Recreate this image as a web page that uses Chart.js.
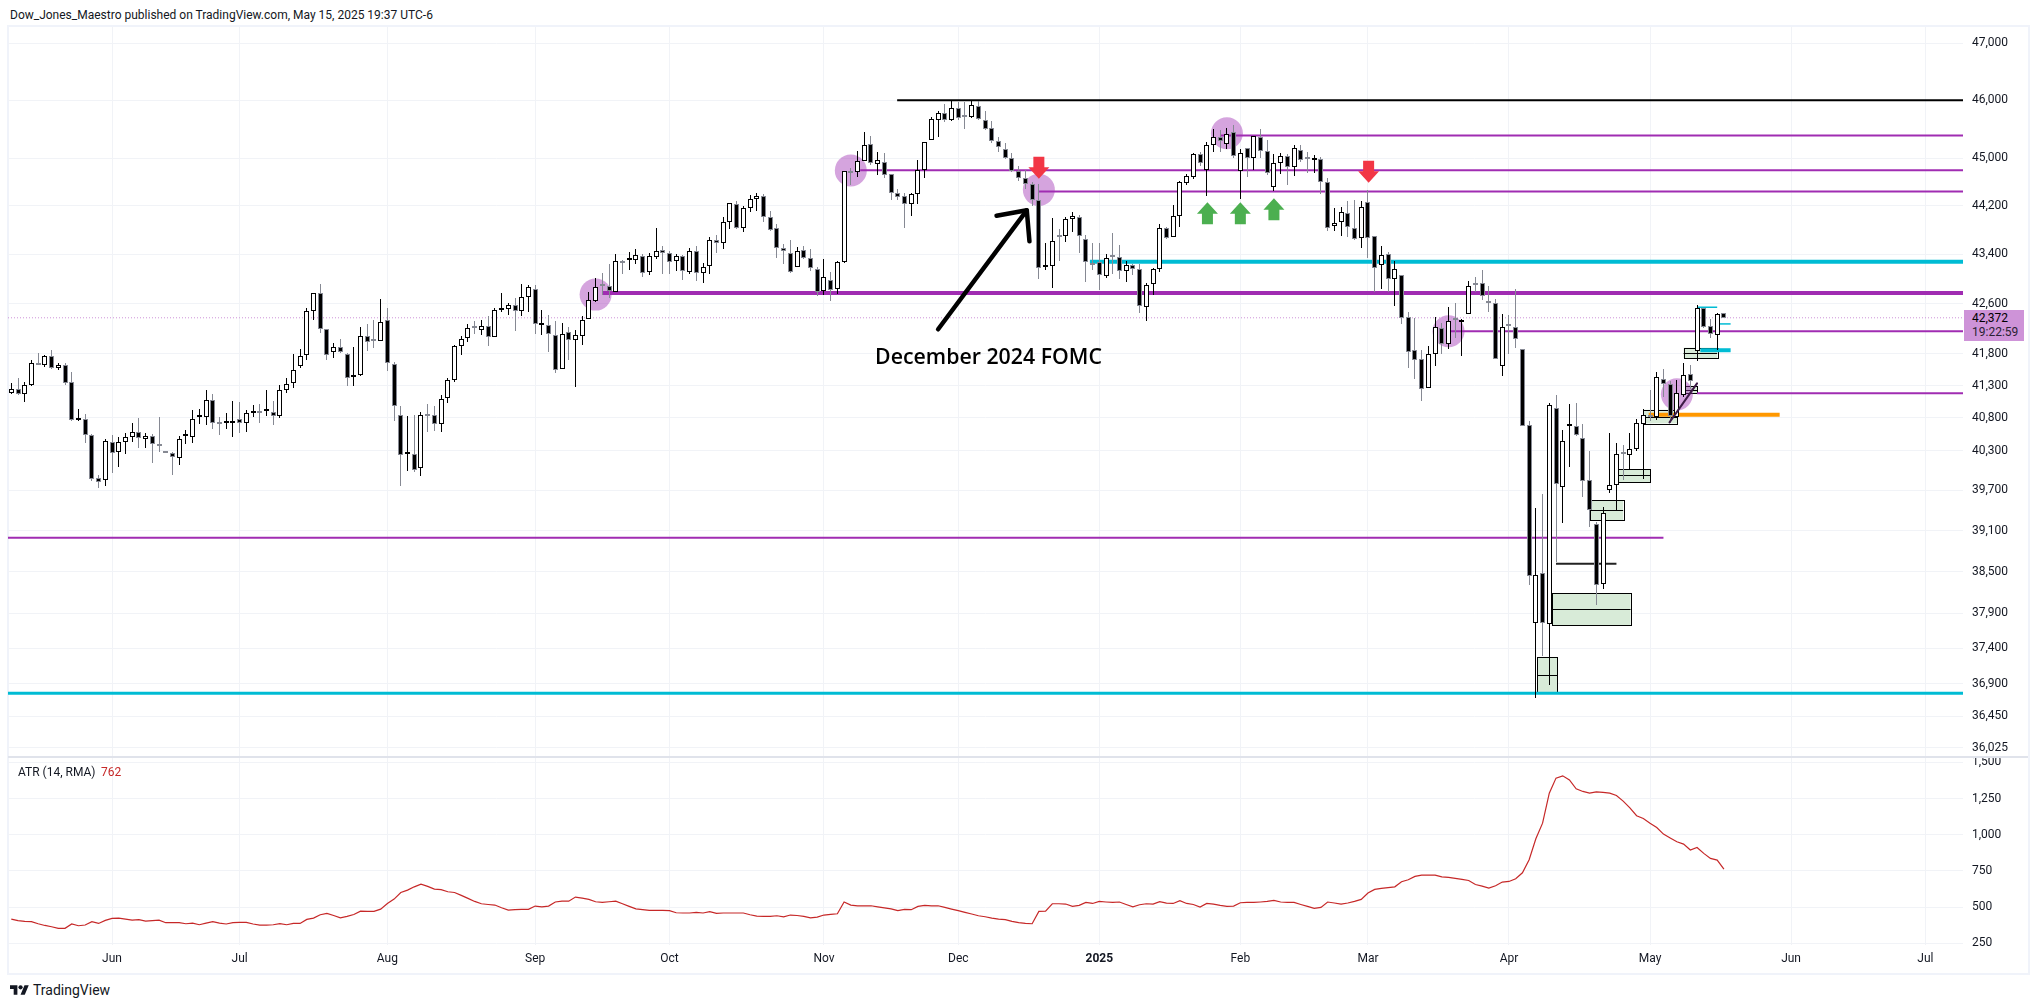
<!DOCTYPE html>
<html><head><meta charset="utf-8"><title>DJI chart</title>
<script src="https://cdn.jsdelivr.net/npm/chart.js@4"></script>
<style>
html,body{margin:0;padding:0;background:#fff;width:2039px;height:1008px;overflow:hidden}
.t{position:absolute;white-space:nowrap;color:#131722;font-family:Roboto,sans-serif}
canvas{position:absolute;display:block}
</style></head><body>
<div style="position:absolute;left:7px;top:25px;width:2019px;height:946px;border:2px solid #f0f3fa"></div>
<canvas id="price" width="2020" height="730" style="left:8px;top:27px"></canvas>
<canvas id="atr" width="2020" height="216" style="left:8px;top:757px"></canvas>
<div style="position:absolute;left:8px;top:756px;width:2020px;height:2px;background:#e0e3eb"></div>
<div class="t" style="left:10px;top:7px;font-size:12px;line-height:16px">Dow_Jones_Maestro published on TradingView.com, May 15, 2025 19:37 UTC-6</div>
<div style="position:absolute;left:1964px;top:310px;width:60px;height:31px;background:#ce93d8"></div>
<div class="t" style="left:1972px;top:311px;font-size:12px;line-height:15px;color:#000">42,372</div>
<div class="t" style="left:1972px;top:325px;font-size:12px;line-height:15px;color:#2a1f33">19:22:59</div>
<div class="t" style="left:18px;top:765px;font-size:12px;line-height:15px">ATR (14, RMA)</div>
<div class="t" style="left:101px;top:765px;font-size:12px;line-height:15px;color:#c62828">762</div>
<svg style="position:absolute;left:10px;top:983px" width="19" height="15" viewBox="0 0 36 28"><path fill="#131722" d="M14 22H7V11H0V4h14v18zM28 22h-8l7.5-18h8L28 22z"/><circle fill="#131722" cx="20" cy="8" r="4"/></svg>
<div class="t" style="left:33px;top:982px;font-size:14px;line-height:17px">TradingView</div>
<script>
const monthLabels = ["Jun","Jul","Aug","Sep","Oct","Nov","Dec","2025","Feb","Mar","Apr","May","Jun","Jul"];
const monthBars = [15,34,56,78,98,121,141,162,183,202,223,244,265,285];
const priceTicks = [47000,46000,45000,44200,43400,42600,41800,41300,40800,40300,39700,39100,38500,37900,37400,36900,36450,36025];
const atrTicks = [1500,1250,1000,750,500,250];

const opens = [
41191,41248,41175,41310,41639,41628,41764,41576,41623,41357,
40764,40779,40545,39890,39850,40435,40285,40425,40503,40576,
40472,40519,40394,40270,40265,40180,40519,40503,40816,40816,
41076,40706,40722,40727,40779,40722,40868,40889,40904,40889,
40831,41237,41347,41613,41779,42487,42778,42200,41827,41912,
41800,41436,41467,42088,42013,42008,42344,41644,40847,40240,
40240,40030,40831,40847,40706,41113,41394,41925,42056,42227,
42184,42243,42072,42504,42520,42579,42488,42713,42838,42259,
42259,42099,41566,42152,42024,42088,42360,42643,42888,42883,
42792,43283,43299,43304,43379,43107,43363,43467,43428,43288,
43368,43107,43461,43096,43208,43633,43583,43933,44233,43833,
44167,44317,44361,44017,43828,43500,43428,43192,43467,43347,
43155,42803,42984,42835,43267,44772,44767,44961,45250,44900,
44944,44733,44411,44361,44228,44400,44811,45318,45665,45778,
45665,45864,45710,45716,45903,45665,45523,45301,45153,45011,
44794,44667,44567,44294,43192,43208,43700,43700,43983,44011,
43650,43256,43267,43043,43373,43363,43128,43224,43160,42547,
42915,43160,43828,43678,44028,44578,44694,45068,44811,45233,
45358,45239,45455,44783,45170,45000,45369,45119,44517,44917,
45034,44850,45148,44989,44967,44983,44600,43867,43933,44083,
43828,43667,44267,43700,43219,43400,43000,43064,42387,41859,
41722,41269,41800,42216,41949,42349,42312,42440,42920,42936,
42648,42611,41607,42248,42227,41875,40685,37757,38486,37743,
40951,39745,40670,40670,40498,39860,39204,38317,39700,39775,
40270,40225,40331,40706,40836,40810,41409,41331,40815,41159,
41482,41848,42536,42248,42104,42451];
const highs = [
41347,41415,41363,41696,41816,41774,41853,41659,41659,41519,
40941,40863,40550,39935,40472,40540,40508,40566,40722,40800,
40566,40555,40821,40270,40280,40519,40618,40915,40941,41227,
41165,40821,40883,41055,41040,40925,40993,41008,41237,41055,
41305,41425,41800,41880,42535,42778,42913,42200,41976,42029,
41816,41912,42232,42280,42333,42670,42536,41675,40977,40836,
40852,40894,41008,40977,41154,41425,41946,42088,42280,42317,
42333,42397,42536,42767,42616,42686,42908,42897,42892,42493,
42413,42317,42296,42221,42184,42397,42794,43021,43101,43245,
43405,43309,43443,43489,43405,43417,43839,43544,43461,43400,
43389,43506,43539,43261,43683,43722,44022,44250,44278,44206,
44389,44422,44406,44122,43900,43572,43639,43517,43544,43483,
43187,43325,43117,43283,44789,44833,45125,45443,45381,45102,
45085,44733,44489,44411,44417,44972,45273,45710,45813,45938,
45989,45966,45966,45994,45983,45807,45636,45369,45256,45085,
44878,44806,44594,44567,43583,44000,43817,44017,44094,44050,
43722,43583,43583,43411,43750,43556,43293,43240,43240,42925,
43176,43906,43850,44211,44611,44739,45085,45102,45284,45500,
45483,45528,45568,45153,45170,45386,45511,45312,45068,45085,
45068,45227,45227,45114,45051,45023,44667,44167,44183,44289,
44300,44289,44472,43700,43539,43433,43293,43069,42472,42376,
41853,41923,42392,42296,42552,42616,42349,42968,43037,43149,
42877,42680,42429,42424,42840,41880,40748,39432,39640,41034,
41149,40618,41008,41024,40711,40290,39229,39447,40566,40409,
40383,40566,40790,40941,41227,41519,41566,41373,41383,41660,
41628,42573,42536,42349,42456,42451];
const lows = [
41165,41149,41045,41295,41623,41592,41566,41545,41310,40753,
40748,40420,39845,39740,39770,39965,40055,40250,40435,40342,
40342,40115,40280,40265,39935,40085,40404,40420,40711,40696,
40628,40545,40623,40514,40566,40576,40811,40717,40826,40685,
40795,41180,41263,41576,41701,42336,42125,41701,41732,41805,
41295,41295,41456,41843,41891,42008,41530,40748,39770,39995,
39980,39920,40587,40602,40576,41030,41357,41779,41987,42115,
42099,41923,42072,42467,42419,42163,42397,42467,42115,42093,
41827,41493,41566,41701,41280,41939,42360,42627,42739,42696,
42792,43085,43149,43245,43037,43069,43331,43085,43085,43123,
42979,43080,42963,42925,43085,43428,43489,43822,43811,43772,
44094,44122,43933,43778,43347,43245,43091,43192,43325,43133,
42717,42733,42643,42760,43251,44544,44689,44961,44889,44722,
44667,44306,44306,43828,44028,44228,44661,45318,45369,45625,
45636,45665,45506,45699,45653,45489,45261,45102,44989,44778,
44622,44489,44206,42995,43139,42851,43283,43594,43772,43428,
42947,43139,42813,43016,43085,43000,42947,43069,42445,42323,
42739,43107,43650,43678,43844,44544,44656,44878,44361,45102,
45102,45159,45011,44322,44694,44806,45000,44722,44456,44739,
44544,44706,44933,44761,44750,44400,43778,43778,43694,43678,
43628,43511,43347,42781,42829,42781,42557,42269,41571,41399,
41060,41269,41607,41790,41869,42045,41764,42440,42787,42659,
42472,41722,41451,41790,41885,40675,38308,36710,37293,36886,
38646,39219,40055,40524,39596,39150,38010,38254,39665,39407,
39855,40015,40295,39875,40748,40774,41123,40722,40810,41123,
41243,41685,42211,42045,41859,42365];
const closes = [
41253,41175,41310,41659,41623,41764,41571,41623,41347,40769,
40769,40534,39865,39825,40441,40270,40425,40503,40581,40487,
40519,40394,40363,40265,40195,40472,40524,40784,40821,41081,
40722,40700,40753,40748,40722,40873,40889,40878,40909,40831,
41232,41326,41550,41764,42487,42778,42200,41784,41912,41827,
41425,41467,42088,41992,42003,42312,41659,40988,40225,40270,
40000,40847,40826,40706,41097,41394,41925,42035,42210,42205,
42243,42072,42499,42536,42584,42488,42708,42870,42269,42264,
42109,41550,42120,42024,42099,42344,42665,42875,42883,42808,
43288,43256,43304,43384,43096,43368,43450,43417,43272,43368,
43123,43450,43096,43192,43633,43583,43933,44250,43833,44167,
44317,44361,44017,43800,43500,43450,43112,43450,43336,43176,
42792,43032,42819,43272,44783,44756,44950,45233,44917,44967,
44717,44417,44350,44233,44400,44811,45273,45682,45784,45659,
45869,45699,45705,45920,45682,45511,45290,45187,45000,44794,
44667,44567,44300,43176,43224,43617,43683,43983,44033,43700,
43272,43224,43064,43336,43363,43128,43224,43160,42568,42904,
43160,43833,43667,44033,44600,44700,45068,44928,45222,45358,
45290,45409,45034,45085,45000,45375,45131,44750,44917,45034,
44850,45170,44967,44983,45000,44600,43833,43917,44100,43850,
43650,44183,43667,43176,43384,43000,43160,42365,41832,41706,
41253,41800,42232,41949,42323,42339,42344,42888,42904,42728,
42616,41722,42232,42243,42040,40675,38433,38447,37757,41003,
39790,40441,40706,40545,39835,39402,38303,39358,39775,40240,
40255,40331,40722,40847,40821,41441,41331,40826,41185,41472,
41373,42536,42232,42120,42435,42372];

const atrValues = [
417,406,401,399,385,373,364,353,353,383,
371,376,399,387,408,422,424,417,410,413,
403,406,410,392,392,392,385,389,378,389,
399,389,383,392,394,394,383,376,376,378,
385,378,387,387,415,424,447,456,442,426,
436,449,472,470,470,486,525,555,601,617,
640,659,643,624,620,606,601,581,560,539,
523,518,514,495,479,482,484,484,507,502,
507,535,541,541,569,562,553,537,532,537,
541,523,505,488,482,477,477,477,475,461,
459,459,463,459,468,456,459,459,459,459,
447,438,436,436,440,433,445,442,436,426,
431,445,449,454,535,514,509,509,509,502,
495,488,475,484,482,505,512,509,509,498,
486,475,463,452,440,433,424,417,413,401,
392,387,385,470,472,523,523,521,505,512,
532,525,539,535,532,535,518,502,516,523,
521,537,528,525,544,525,518,500,525,521,
512,505,507,530,532,532,535,539,546,535,
532,532,518,505,491,498,535,528,521,528,
539,553,597,622,629,634,640,675,689,712,
721,721,721,709,705,698,691,684,656,645,
631,647,673,677,696,737,827,972,1080,1287,
1391,1407,1379,1317,1299,1287,1296,1292,1287,1271,
1232,1186,1131,1112,1080,1050,1004,977,951,935,
894,912,871,836,825,762];

// drawings: [firstBar, lastBar, price]
const PRICE_MIN = 35896, PRICE_MAX = 47290, BAR_MIN = -0.49, BAR_MAX = 290.6;
const lastPrice = 42372;
const blackLevels = [[131.9,BAR_MAX,46000]];
const purpleLevels = [[180,BAR_MAX,45393],[126.4,BAR_MAX,44800],[153,BAR_MAX,44443],[214,BAR_MAX,42157],[251,BAR_MAX,41180],[BAR_MIN,246,38996]];
const purpleThick = [[88,BAR_MAX,42770]];
const cyanUpper = [[160.6,BAR_MAX,43277]];
const cyanLower = [[BAR_MIN,BAR_MAX,36770]];
const cyanShort = [[251.5,256,41856]];
const cyanThin = [[251,254,42541],[254,256,42274]];
const orangeLevels = [[243.8,263.3,40847]];
const darkLevels = [[230,239,38614]];
const circleMarks = [[87,42745],[125,44795],[153,44470],[181,45430],[214,42157],[248,41165]];
const demandZones = [ // firstBar,lastBar,top,mid,bottom
 [227.2,230.2,37274,37029,36778],[229.4,241.1,38186,37955,37727],[235,240,39551,39402,39253],
 [239.3,244.1,40015,39925,39820],[243,248.1,40925,40820,40716],[249,254,41896,41816,41731],[249.2,251,41289,41238,41185]];
const slantLine = [[246.9,40730],[251,41336]];
const arrowShaft = [[138,42189],[151.2,44127]];
const arrowHead = [[146.7,44038],[151.2,44127],[151.6,43613]];
const redArrowTips = [[153,44655],[202.1,44588]];
const greenArrowTips = [[178.1,44260],[183,44260],[188,44327]];
const noteText = "December 2024 FOMC", noteAt = [145.5,41758];

const barIdx = closes.map((_,i)=>i);
const GRID = '#f1f3f7', TXT = '#131722', UP_EDGE = '#000000', DN_EDGE = '#868993';
const up = i => closes[i] >= opens[i];
const hline = (rows,color,width,order,dash) => rows.map(r => ({
  type:'line', data:[{x:r[0],y:r[2]},{x:r[1],y:r[2]}], borderColor:color, borderWidth:width,
  pointRadius:0, order, borderDash:dash||[], borderCapStyle:'butt', parsing:true }));
const poly = (pts,color,width,order,cap) => ({ type:'line', data:pts.map(p=>({x:p[0],y:p[1]})),
  borderColor:color, borderWidth:width, pointRadius:0, order, borderCapStyle:cap||'round', borderJoinStyle:'round', tension:0 });

const snapBars = {
  id:'snapBars',
  afterDatasetsUpdate(chart){
    chart.getSortedVisibleDatasetMetas().forEach(meta=>{
      if(meta.type!=='bar') return;
      meta.data.forEach(el=>{
        el.x=Math.floor(el.x)+0.5; el.y=Math.round(el.y); el.base=Math.round(el.base);
      });
    });
  }
};
const drawings = {
  id:'drawings',
  beforeDatasetsDraw(chart){
    const {ctx,scales:{x,y}} = chart;
    ctx.save();
    demandZones.forEach(z=>{
      const x0=x.getPixelForValue(z[0]),x1=x.getPixelForValue(z[1]);
      const t=y.getPixelForValue(z[2]),m=y.getPixelForValue(z[3]),b=y.getPixelForValue(z[4]);
      ctx.fillStyle='#d8ebd8'; ctx.fillRect(x0,t,x1-x0,b-t);
      ctx.strokeStyle='#000'; ctx.lineWidth=1;
      ctx.strokeRect(Math.round(x0)+.5,Math.round(t)+.5,Math.round(x1-x0),Math.round(b-t));
      ctx.beginPath(); ctx.moveTo(x0,Math.round(m)+.5); ctx.lineTo(x1,Math.round(m)+.5); ctx.stroke();
    });
    ctx.restore();
  },
  afterDatasetsDraw(chart){
    const {ctx,scales:{x,y}} = chart;
    ctx.save();
    const arrow=(bar,price,dir,color)=>{ // dir=+1 pointing down (tip at bottom), -1 pointing up
      const cx=x.getPixelForValue(bar), tip=y.getPixelForValue(price);
      ctx.fillStyle=color; ctx.beginPath();
      ctx.moveTo(cx,tip); ctx.lineTo(cx+10.5,tip-dir*11.5); ctx.lineTo(cx+5.5,tip-dir*11.5);
      ctx.lineTo(cx+5.5,tip-dir*22); ctx.lineTo(cx-5.5,tip-dir*22); ctx.lineTo(cx-5.5,tip-dir*11.5);
      ctx.lineTo(cx-10.5,tip-dir*11.5); ctx.closePath(); ctx.fill();
    };
    redArrowTips.forEach(a=>arrow(a[0],a[1],1,'#f23645'));
    greenArrowTips.forEach(a=>arrow(a[0],a[1],-1,'#4caf50'));
    ctx.fillStyle='#000'; ctx.font='600 21.3px "Open Sans"'; ctx.textAlign='center'; ctx.textBaseline='middle';
    ctx.fillText(noteText,x.getPixelForValue(noteAt[0]),y.getPixelForValue(noteAt[1])+1);
    ctx.restore();
  }
};

Chart.defaults.font.family='Roboto, sans-serif';
Chart.defaults.font.size=12;
Chart.defaults.color=TXT;

const noPad = s => { s.paddingTop=0; s.paddingBottom=0; s.paddingLeft=0; s.paddingRight=0; };
const xScale = (showLabels) => ({
  type:'linear', min:BAR_MIN, max:BAR_MAX, bounds:'data', offset:false,
  grid:{color:GRID,lineWidth:1,drawTicks:false,tickLength:0,offset:false},
  border:{display:false},
  afterBuildTicks(s){ s.ticks = monthBars.map(v=>({value:v})); },
  afterFit(s){ s.height = showLabels ? 28 : 0; noPad(s); },
  ticks:{display:showLabels,autoSkip:false,maxRotation:0,padding:7,color:TXT,
    callback:v=>monthLabels[monthBars.indexOf(v)],
    font:c=>({family:'Roboto, sans-serif',size:12,weight:c.tick&&c.tick.value===162?'bold':'normal'})}
});
const yScale = (type,min,max,vals) => ({
  type, position:'right', min, max, bounds:'data',
  grid:{color:GRID,lineWidth:1,drawTicks:false,tickLength:0},
  border:{display:false},
  afterBuildTicks(s){ s.ticks = vals.map(v=>({value:v})); },
  afterFit(s){ s.width = 65; noPad(s); },
  ticks:{autoSkip:false,padding:9,color:TXT,callback:v=>Number(v).toLocaleString('en-US')}
});
const base = {responsive:false,animation:false,devicePixelRatio:1,
  layout:{autoPadding:false,padding:0},
  plugins:{legend:{display:false},tooltip:{enabled:false},title:{display:false}},
  events:[]};

new Chart(document.getElementById('price'),{
  data:{datasets:[
    {type:'scatter',data:circleMarks.map(c=>({x:c[0],y:c[1]})),pointRadius:16,pointBorderWidth:0,
     pointBackgroundColor:'rgba(156,39,176,0.42)',showLine:false,order:9},
    ...hline(purpleLevels,'#a02cb2',2,8),
    ...hline(purpleThick,'#a02cb2',4,8),
    ...hline(cyanUpper,'#00bcd4',4,8),
    ...hline(cyanLower,'#00bcd4',3,8),
    ...hline(cyanShort,'#00bcd4',4,8),
    ...hline(cyanThin,'#00bcd4',1.5,8),
    ...hline(orangeLevels,'#ff9800',4,8),
    ...hline(darkLevels,'#222222',2,8),
    ...hline(blackLevels,'#000000',2.2,8),
    ...hline([[BAR_MIN,BAR_MAX,lastPrice]],'#ce93d8',1,8,[1,2]),
    {type:'bar',data:barIdx.map(i=>({x:i,y:[lows[i],highs[i]]})),barThickness:1,grouped:false,inflateAmount:0,
     backgroundColor:c=>up(c.dataIndex)?UP_EDGE:DN_EDGE,borderWidth:0,order:3},
    {type:'bar',data:barIdx.map(i=>({x:i,y:[Math.min(opens[i],closes[i]),Math.max(opens[i],closes[i])]})),
     barThickness:5,grouped:false,minBarLength:2,borderSkipped:false,borderWidth:1,inflateAmount:0,
     backgroundColor:c=>up(c.dataIndex)?'#ffffff':'#000000',
     borderColor:c=>up(c.dataIndex)?UP_EDGE:DN_EDGE,order:2},
    poly(slantLine,'#3c1a45',2,1),
    poly(arrowShaft,'#000000',4.5,1),
    poly(arrowHead,'#000000',4.5,1)
  ]},
  options:{...base,scales:{x:xScale(false),y:yScale('logarithmic',PRICE_MIN,PRICE_MAX,priceTicks)}},
  plugins:[snapBars,drawings]
});

new Chart(document.getElementById('atr'),{
  data:{datasets:[{type:'line',data:barIdx.map(i=>({x:i,y:atrValues[i]})),borderColor:'#c62828',borderWidth:1.2,pointRadius:0,tension:0}]},
  options:{...base,scales:{x:xScale(true),y:yScale('linear',238,1537,atrTicks)}}
});
</script>
</body></html>
